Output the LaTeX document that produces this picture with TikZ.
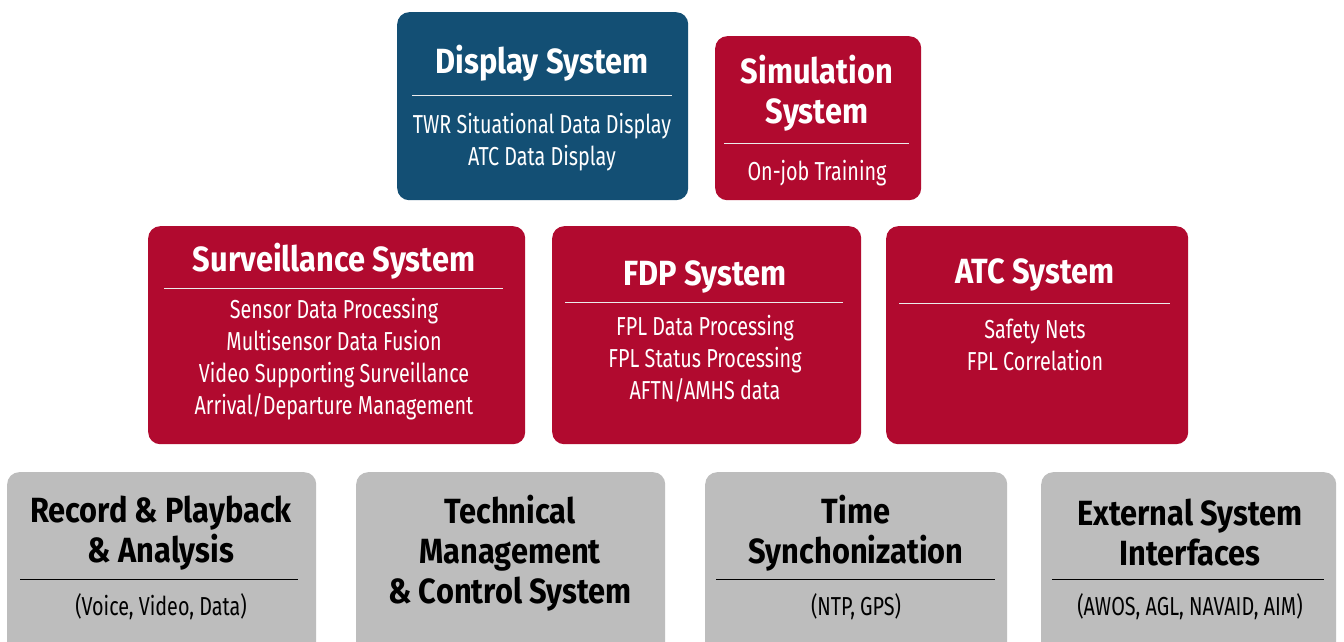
\documentclass[tikz,border=0pt]{standalone}
\usepackage{fontspec}
\setmainfont{Fira Sans}[FakeStretch=0.76, BoldFeatures={FakeStretch=0.88}]
\definecolor{dblue}{HTML}{134F74}
\definecolor{dred}{HTML}{B10A2F}
\definecolor{lgray}{HTML}{BDBDBD}
\tikzset{
  box/.style={rounded corners=12pt, inner sep=0pt, anchor=north west},
  bluebox/.style={box, fill=dblue},
  redbox/.style={box, fill=dred},
  graybox/.style={box, fill=lgray},
  ttl/.style={align=center, inner sep=0pt, font=\bfseries\fontsize{35}{40}\selectfont},
  sub/.style={align=center, inner sep=0pt, font=\fontsize{26}{32}\selectfont},
  wtxt/.style={text=white},
  btxt/.style={text=black},
  wline/.style={draw=white!85!gray, line width=1pt},
  bline/.style={draw=black, line width=1pt},
}
\begin{document}
\begin{tikzpicture}[x=1pt,y=-1pt]
\clip (0,0) rectangle (1344,642);
\fill[white] (0,0) rectangle (1344,642);
% top row
\node[bluebox, minimum width=291pt, minimum height=188pt] (disp) at (397,12) {};
\node[ttl, wtxt] (dispT) at (542,63) {Display System};
\draw[wline] (412,95) coordinate (d1) -- (672,95) coordinate (d2);
\node[sub, wtxt] (dispS) at (542,142) {TWR Situational Data Display\\ATC Data Display};

\node[redbox, minimum width=206pt, minimum height=164pt] (sim) at (715,36) {};
\node[ttl, wtxt] (simT) at (817,93) {Simulation\\System};
\draw[wline] (724,143) coordinate (s1) -- (909,143) coordinate (s2);
\node[sub, wtxt] (simS) at (817,173) {On-job Training};

% middle row
\node[redbox, minimum width=377pt, minimum height=218pt] (surv) at (148,226) {};
\node[ttl, wtxt] (survT) at (334,261) {Surveillance System};
\draw[wline] (164,288) coordinate (v1) -- (503,288) coordinate (v2);
\node[sub, wtxt] (survS) at (334,359) {Sensor Data Processing\\Multisensor Data Fusion\\Video Supporting Surveillance\\Arrival/Departure Management};

\node[redbox, minimum width=309pt, minimum height=218pt] (fdp) at (552,226) {};
\node[ttl, wtxt] (fdpT) at (705,277) {FDP System};
\draw[wline] (565,302) coordinate (f1) -- (843,302) coordinate (f2);
\node[sub, wtxt] (fdpS) at (705,359) {FPL Data Processing\\FPL Status Processing\\AFTN/AMHS data};

\node[redbox, minimum width=302pt, minimum height=218pt] (atc) at (886,226) {};
\node[ttl, wtxt] (atcT) at (1035,275) {ATC System};
\draw[wline] (899,303) coordinate (a1) -- (1170,303) coordinate (a2);
\node[sub, wtxt] (atcS) at (1035,345) {Safety Nets\\FPL Correlation};

% bottom row
\node[graybox, minimum width=309pt, minimum height=200pt] (rec) at (7,472) {};
\node[ttl, btxt] (recT) at (161,533) {Record \& Playback\\\& Analysis};
\draw[bline] (20,579) coordinate (r1) -- (298,579) coordinate (r2);
\node[sub, btxt] (recS) at (161,607) {(Voice, Video, Data)};

\node[graybox, minimum width=309pt, minimum height=200pt] (tech) at (356,472) {};
\node[ttl, btxt] (techT) at (510,553) {Technical\\Management\\\& Control System};

\node[graybox, minimum width=302pt, minimum height=200pt] (time) at (705,472) {};
\node[ttl, btxt] (timeT) at (856,533) {Time\\Synchonization};
\draw[bline] (716,579) coordinate (t1) -- (995,579) coordinate (t2);
\node[sub, btxt] (timeS) at (856,607) {(NTP, GPS)};

\node[graybox, minimum width=295pt, minimum height=200pt] (ext) at (1041,472) {};
\node[ttl, btxt] (extT) at (1190,533) {External System\\Interfaces};
\draw[bline] (1052,579) coordinate (e1) -- (1324,579) coordinate (e2);
\node[sub, btxt] (extS) at (1190,607) {(AWOS, AGL, NAVAID, AIM)};
\end{tikzpicture}
\end{document}
